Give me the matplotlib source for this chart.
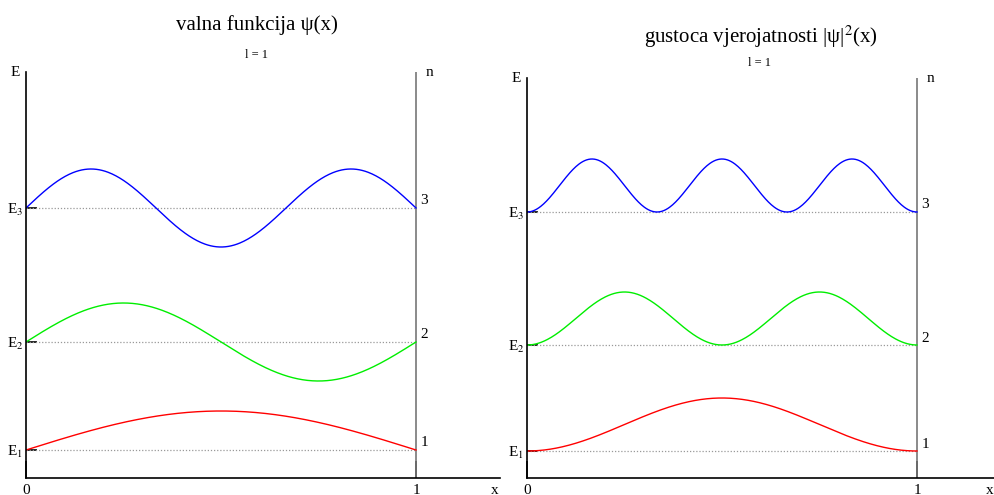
import numpy as np
import matplotlib
matplotlib.use('Agg')
import matplotlib.pyplot as plt

plt.rcParams['font.family'] = ['Liberation Serif', 'DejaVu Sans']
plt.rcParams['mathtext.fontset'] = 'stix'

# kvantni brojevi i razine energije (procjena iz slike)
n_values = [1, 2, 3]
level_names = ['E$_1$', 'E$_2$', 'E$_3$']
colors = ['#ff0000', '#00ee00', '#0000ff']
levels_psi = [0.28, 1.36, 2.70]     # lijevi graf
levels_prob = [0.27, 1.33, 2.66]    # desni graf
amp_psi = 0.39
amp_prob = 0.53
box_ticks = [0, 1]
box_labels = ['0', '1']

W, H = 995, 495
fig = plt.figure(figsize=(W / 100, H / 100), dpi=100)

x = np.linspace(0, 1, 400)


def make_panel(left_px, right_px, top_px, xmax, levels, amp, square):
    bottom_px = 478
    ax = fig.add_axes([left_px / W, (H - bottom_px) / H,
                       (right_px - left_px) / W, (bottom_px - top_px) / H])
    ax.set_xlim(0, xmax)
    ax.set_ylim(0, (bottom_px - top_px) / 100)
    ax.spines['top'].set_visible(False)
    ax.spines['right'].set_visible(False)
    ax.spines['left'].set_linewidth(1.2)
    ax.spines['bottom'].set_linewidth(1.2)
    ax.axvline(1, color='#777777', lw=1.2)
    for n, lev, c in zip(n_values, levels, colors):
        y = np.sin(n * np.pi * x)
        if square:
            y = y ** 2
        ax.plot([0, 1], [lev, lev], color='#999999', lw=0.9, ls=(0, (1, 1.5)))
        ax.plot(x, lev + amp * y, color=c, lw=1.0)
        ax.text(1.012, lev + 0.07, str(n), fontsize=11, va='center', ha='left')
    ax.set_yticks(levels)
    ax.set_yticklabels(level_names, fontsize=11)
    ax.tick_params(axis='y', direction='in', length=8, width=1.2, pad=2)
    ax.set_xticks(box_ticks)
    ax.set_xticklabels(box_labels, fontsize=11)
    ax.tick_params(axis='x', direction='in', length=12, width=1.2, pad=4)
    ax.text(-0.012, 1.0, 'E', transform=ax.transAxes, fontsize=11,
            ha='right', va='center')
    ax.text(1.025, 1.0, 'n', transform=ax.get_xaxis_transform(),
            fontsize=11, ha='left', va='center')
    ax.text(xmax - 0.005, -0.12, 'x', fontsize=11, ha='right', va='center',
            clip_on=False)
    return ax


make_panel(26, 500, 72, 474 / 390, levels_psi, amp_psi, False)
make_panel(527, 995, 78, 468 / 390, levels_prob, amp_prob, True)

fig.text(257 / W, 1 - 25 / H, 'valna funkcija ψ(x)', fontsize=15,
         ha='center', va='center')
fig.text(257 / W, 1 - 55 / H, 'l = 1', fontsize=9, ha='center', va='center')
fig.text(761 / W, 1 - 37 / H, r'gustoca vjerojatnosti |ψ|$^2$(x)', fontsize=15,
         ha='center', va='center')
fig.text(760 / W, 1 - 63 / H, 'l = 1', fontsize=9, ha='center', va='center')

fig.savefig('out.png', dpi=100)
